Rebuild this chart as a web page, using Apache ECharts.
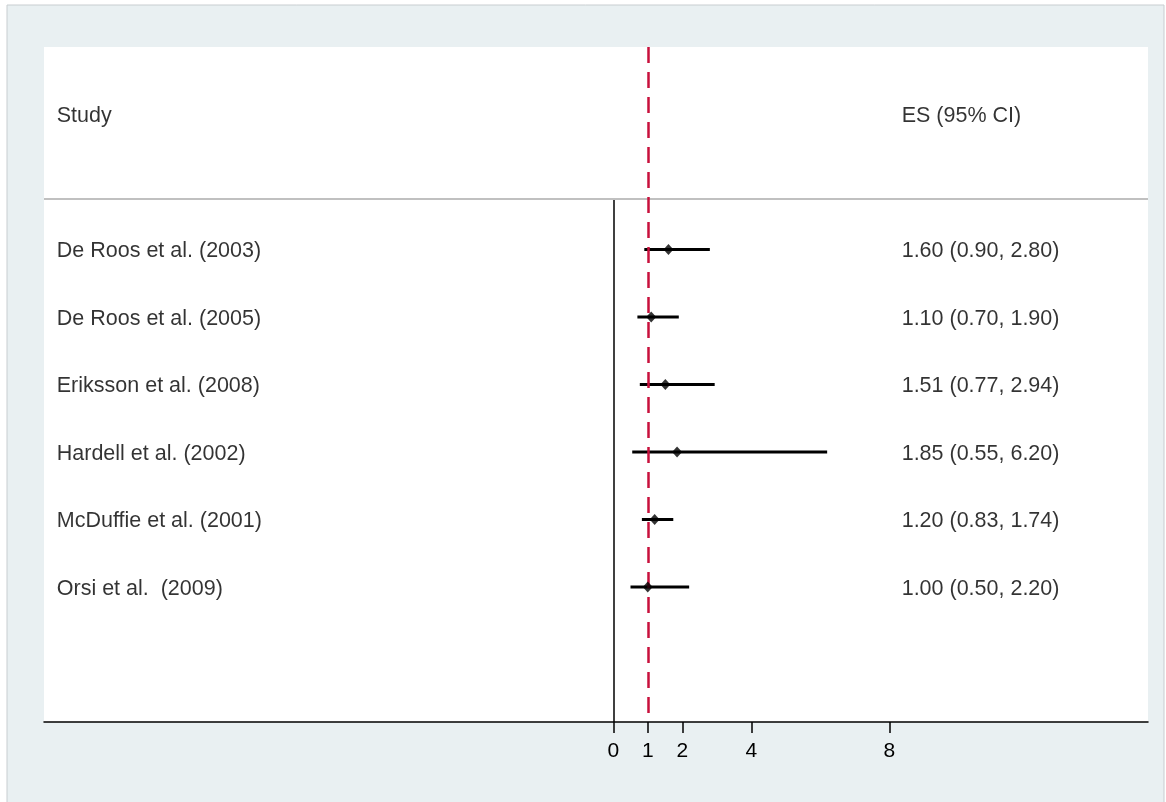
<!DOCTYPE html>
<html>
<head>
<meta charset="utf-8">
<script src="https://cdn.jsdelivr.net/npm/echarts@6/dist/echarts.min.js"></script>
<style>
  html,body{margin:0;padding:0;background:#fff;}
  #main{width:1166px;height:802px;}
</style>
</head>
<body>
<div id="main"></div>
<script>
// data
var studies = ['De Roos et al. (2003)', 'De Roos et al. (2005)', 'Eriksson et al. (2008)',
               'Hardell et al. (2002)', 'McDuffie et al. (2001)', 'Orsi et al.  (2009)'];
var es    = [1.60, 1.10, 1.51, 1.85, 1.20, 1.00];
var lower = [0.90, 0.70, 0.77, 0.55, 0.83, 0.50];
var upper = [2.80, 1.90, 2.94, 6.20, 1.74, 2.20];
var xTicks = [0, 1, 2, 4, 8];
var headerStudy = 'Study';
var headerES = 'ES (95% CI)';

var FONT = '"Liberation Sans", Arial, sans-serif';
var studyX = -16.13, esTextX = 8.36, headerRow = -2, sepRow = -0.75;

function fmt(v){ return v.toFixed(2); }

var ciData = [], pointData = [], studyLabels = [], esLabels = [];
for (var i = 0; i < studies.length; i++) {
  ciData.push([lower[i], upper[i], i]);
  pointData.push([es[i], i]);
  studyLabels.push({value:[studyX, i], name: studies[i]});
  esLabels.push({value:[esTextX, i], name: fmt(es[i]) + ' (' + fmt(lower[i]) + ', ' + fmt(upper[i]) + ')'});
}
studyLabels.push({value:[studyX, headerRow], name: headerStudy});
esLabels.push({value:[esTextX, headerRow], name: headerES});

var textLabel = {
  show:true, position:'right', distance:0, offset:[0, 2],
  formatter:function(p){ return p.name; },
  color:'#000', fontSize:21.5, fontFamily:FONT
};

var chart = echarts.init(document.getElementById('main'));
chart.setOption({
  backgroundColor:'transparent',
  animation:false,
  graphic:[{
    type:'rect', z:-10, silent:true,
    shape:{x:7, y:5, width:1157, height:800},
    style:{fill:'#e9f0f2', stroke:'#c8cdd0', lineWidth:1}
  }],
  grid:{left:44, right:18, top:47, bottom:80, show:true, backgroundColor:'#fff', borderWidth:0},
  xAxis:{
    type:'value', min:-16.5, max:15.5,
    splitLine:{show:false},
    axisLine:{onZero:false, lineStyle:{color:'#000', width:1.5}},
    axisTick:{inside:false, customValues:xTicks, length:11, lineStyle:{color:'#000', width:1.5}},
    axisLabel:{customValues:xTicks, color:'#000', fontSize:21, fontFamily:FONT, margin:19}
  },
  yAxis:{
    type:'value', min:-3, max:7, inverse:true, show:false, splitLine:{show:false}
  },
  series:[
    {
      type:'custom',
      data:ciData,
      renderItem:function(params, api){
        var a = api.coord([api.value(0), api.value(2)]);
        var b = api.coord([api.value(1), api.value(2)]);
        return {type:'line', shape:{x1:a[0], y1:a[1], x2:b[0], y2:b[1]},
                style:{stroke:'#000', lineWidth:3}};
      },
      z:3,
      markLine:{
        silent:true, symbol:'none', label:{show:false},
        data:[
          [{coord:[0, sepRow], lineStyle:{color:'#000', width:1.5, type:'solid'}}, {coord:[0, 7]}],
          [{coord:[-16.5, sepRow], lineStyle:{color:'#c0c0c0', width:2, type:'solid'}}, {coord:[15.5, sepRow]}],
          [{coord:[1, -3], lineStyle:{color:'#c8103c', width:2.5, type:[16, 9]}}, {coord:[1, 7]}]
        ]
      }
    },
    {
      type:'scatter', data:pointData, symbol:'diamond', symbolSize:[10, 11],
      itemStyle:{color:'#000'}, z:5
    },
    {
      type:'scatter', data:studyLabels, symbolSize:0, label:textLabel
    },
    {
      type:'scatter', data:esLabels, symbolSize:0, label:textLabel
    }
  ]
});
</script>
</body>
</html>
